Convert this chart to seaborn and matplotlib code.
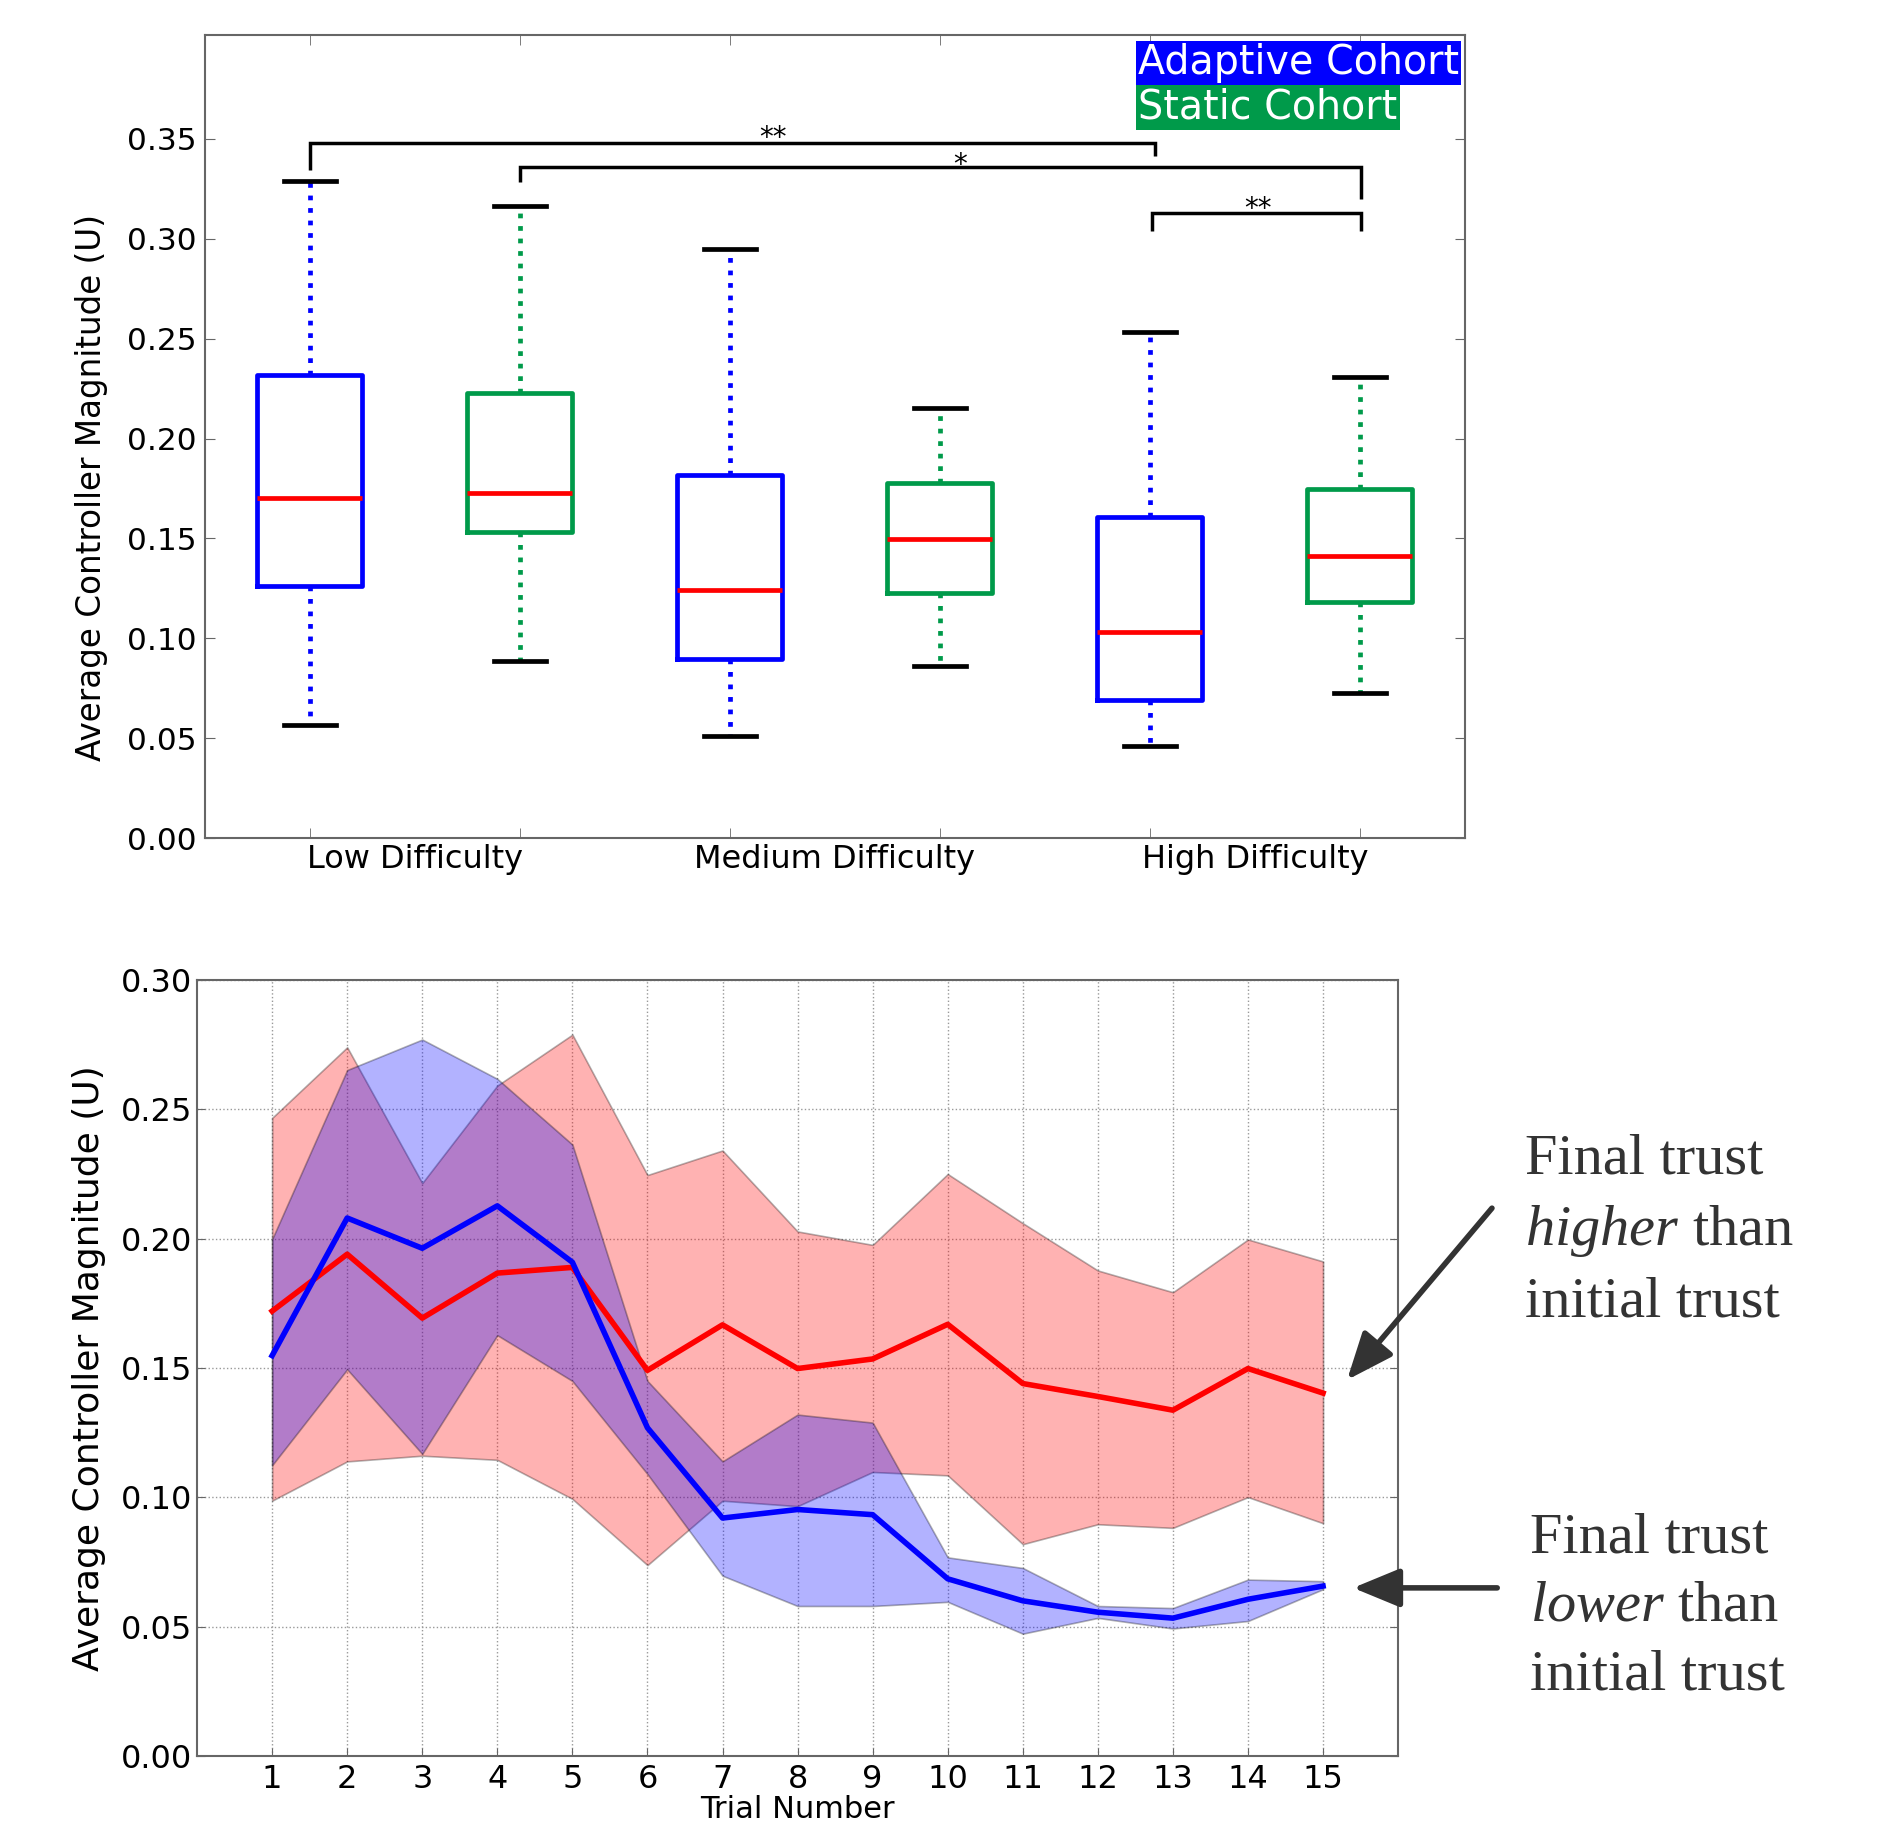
import numpy as np
import pandas as pd
import matplotlib
matplotlib.use("Agg")
import matplotlib.pyplot as plt
import seaborn as sns

# ---------------- data ----------------
difficulties = ["Low Difficulty", "Medium Difficulty", "High Difficulty"]
cohorts = ["Adaptive Cohort", "Static Cohort"]
# five-number summaries: whisker low, Q1, median, Q3, whisker high
adaptive_low = [0.0566, 0.126, 0.170, 0.232, 0.329]
static_low = [0.0884, 0.1534, 0.1727, 0.2226, 0.3165]
adaptive_med = [0.0511, 0.0897, 0.124, 0.1817, 0.2948]
static_med = [0.086, 0.1227, 0.1498, 0.1775, 0.2154]
adaptive_high = [0.0463, 0.0692, 0.1029, 0.1606, 0.2533]
static_high = [0.0728, 0.118, 0.1414, 0.1745, 0.231]

sig_labels = ["**", "*", "**"]

trials = list(range(1, 16))
static_mean = [0.172, 0.194, 0.1693, 0.1867, 0.1889, 0.1491, 0.1667, 0.1498, 0.1535,
               0.1669, 0.144, 0.139, 0.1337, 0.1498, 0.1403]
static_upper = [0.2467, 0.274, 0.2215, 0.2592, 0.2789, 0.2246, 0.2341, 0.2028, 0.1976,
                0.225, 0.206, 0.1877, 0.1793, 0.1997, 0.1912]
static_lower = [0.0987, 0.1139, 0.1161, 0.1145, 0.0994, 0.0738, 0.0987, 0.0966, 0.1098,
                0.1085, 0.0819, 0.0896, 0.0882, 0.1001, 0.090]
adaptive_mean = [0.1548, 0.208, 0.1963, 0.2127, 0.1909, 0.1269, 0.092, 0.0953, 0.0933,
                 0.0685, 0.060, 0.0556, 0.0533, 0.0606, 0.0657]
adaptive_upper = [0.1998, 0.2652, 0.277, 0.2618, 0.2364, 0.145, 0.1139, 0.132, 0.1289,
                  0.0768, 0.0727, 0.058, 0.0572, 0.0682, 0.0676]
adaptive_lower = [0.1124, 0.1495, 0.1168, 0.1627, 0.145, 0.109, 0.0697, 0.058, 0.058,
                  0.0596, 0.0473, 0.0534, 0.0493, 0.0522, 0.0645]

BLUE = "#0000ff"
GREEN = "#009a4a"
GREY = "#333333"

plt.rcParams["font.family"] = ["DejaVu Sans"]
plt.rcParams["mathtext.fontset"] = "custom"
plt.rcParams["mathtext.rm"] = "Liberation Serif"
plt.rcParams["mathtext.it"] = "Liberation Serif:italic"

fig = plt.figure(figsize=(18.82, 18.25), dpi=100)

# ---------------- top: box plot ----------------
ax1 = fig.add_axes([0.1089, 0.5408, 0.6695, 0.44])
summaries = {
    ("Low Difficulty", "Adaptive Cohort"): adaptive_low,
    ("Low Difficulty", "Static Cohort"): static_low,
    ("Medium Difficulty", "Adaptive Cohort"): adaptive_med,
    ("Medium Difficulty", "Static Cohort"): static_med,
    ("High Difficulty", "Adaptive Cohort"): adaptive_high,
    ("High Difficulty", "Static Cohort"): static_high,
}
rows = []
for (d, c), vals in summaries.items():
    for v in vals:
        rows.append({"difficulty": d, "cohort": c, "value": v})
df_box = pd.DataFrame(rows)

sns.boxplot(data=df_box, x="difficulty", y="value", hue="cohort",
            order=difficulties, hue_order=cohorts,
            palette={"Adaptive Cohort": BLUE, "Static Cohort": GREEN},
            width=1.0, gap=0.5, fill=False, whis=(0, 100), linewidth=3.4,
            whiskerprops={"linestyle": ":"},
            capprops={"color": "black"},
            medianprops={"color": "red"},
            legend=False, ax=ax1)

ax1.set_xlim(-0.5, 2.5)
ax1.set_ylim(0, 0.402)
ax1.set_yticks(np.arange(0, 0.351, 0.05))
ax1.set_yticklabels([f"{v:.2f}" for v in np.arange(0, 0.351, 0.05)])
ax1.set_xticks([0, 1, 2])
ax1.set_xticklabels(difficulties)
box_pos = [-0.25, 0.25, 0.75, 1.25, 1.75, 2.25]
ax1.set_xticks(box_pos, minor=True)
ax1.tick_params(axis="x", which="major", length=0, labelsize=23, pad=4)
ax1.tick_params(axis="x", which="minor", direction="in", top=True, bottom=True,
                length=7, color="#666666")
ax1.tick_params(axis="y", direction="in", left=True, right=True, length=7,
                labelsize=22.5, color="#666666", pad=6)
ax1.set_xlabel("")
ax1.set_ylabel("Average Controller Magnitude (U)", fontsize=23.5)
ax1.yaxis.set_label_coords(-0.077, 0.436)
for s in ax1.spines.values():
    s.set_color("#666666")
    s.set_linewidth(1.5)

# significance brackets: (x_left, x_right, y_bar, y_left_end, y_right_end, x_text, y_text)
brackets = [
    (-0.25, 1.761, 0.348, 0.3345, 0.3412, 0.853, 0.3466),
    (0.25, 2.253, 0.3357, 0.3285, 0.320, 1.299, 0.3330),
    (1.756, 2.253, 0.3129, 0.3038, 0.3038, 2.007, 0.3110),
]
for (xl, xr, yb, yl, yr, xt, yt), lab in zip(brackets, sig_labels):
    ax1.plot([xl, xl, xr, xr], [yl, yb, yb, yr], color="black", lw=2.5,
             solid_capstyle="butt", solid_joinstyle="miter")
    ax1.text(xt, yt, lab, ha="center", va="baseline", fontsize=20)

ax1.text(0.7405, 0.990, "Adaptive Cohort", transform=ax1.transAxes, ha="left", va="top",
         fontsize=28.5, color="white",
         bbox=dict(boxstyle="square,pad=0.06", facecolor=BLUE, edgecolor="none"))
ax1.text(0.7405, 0.935, "Static Cohort", transform=ax1.transAxes, ha="left", va="top",
         fontsize=28.5, color="white",
         bbox=dict(boxstyle="square,pad=0.06", facecolor=GREEN, edgecolor="none"))

# ---------------- bottom: trial lines ----------------
ax2 = fig.add_axes([0.1047, 0.0378, 0.6382, 0.4252])
ax2.fill_between(trials, static_lower, static_upper, facecolor="red",
                 edgecolor="black", linewidth=1.2, alpha=0.3)
ax2.fill_between(trials, adaptive_lower, adaptive_upper, facecolor="blue",
                 edgecolor="black", linewidth=1.2, alpha=0.3)
sns.lineplot(x=trials, y=static_mean, color="red", linewidth=4, ax=ax2)
sns.lineplot(x=trials, y=adaptive_mean, color="blue", linewidth=4, ax=ax2)

ax2.set_xlim(0, 16)
ax2.set_ylim(0, 0.30)
ax2.set_xticks(trials)
ax2.set_xticklabels([str(t) for t in trials])
ax2.set_yticks(np.arange(0, 0.301, 0.05))
ax2.set_yticklabels([f"{v:.2f}" for v in np.arange(0, 0.301, 0.05)])
ax2.grid(True, linestyle=":", color="#999999", linewidth=1.0)
ax2.set_axisbelow(True)
ax2.tick_params(axis="both", direction="in", top=False, right=True, length=6,
                labelsize=23, color="#666666")
ax2.tick_params(axis="x", pad=6)
ax2.set_xlabel("Trial Number", fontsize=22, labelpad=0)
ax2.set_ylabel("Average Controller Magnitude (U)", fontsize=26)
ax2.yaxis.set_label_coords(-0.0758, 0.5)
for s in ax2.spines.values():
    s.set_color("#666666")
    s.set_linewidth(1.5)

arrow_style = "-|>,head_length=0.8,head_width=0.33"
ax2.annotate("", xy=(15.32, 0.1454), xytext=(17.25, 0.2118),
             arrowprops=dict(arrowstyle=arrow_style, lw=4, color=GREY,
                             mutation_scale=36, shrinkA=0, shrinkB=0),
             annotation_clip=False)
ax2.annotate("", xy=(15.40, 0.065), xytext=(17.32, 0.065),
             arrowprops=dict(arrowstyle=arrow_style, lw=4, color=GREY,
                             mutation_scale=36, shrinkA=0, shrinkB=0),
             annotation_clip=False)
ax2.text(17.69, 0.2406, "Final trust\n$\\mathit{higher}$ than\ninitial trust",
         fontsize=42, family="Liberation Serif", color=GREY, ha="left", va="top",
         linespacing=1.42, clip_on=False)
ax2.text(17.75, 0.0943, "Final trust\n$\\mathit{lower}$ than\ninitial trust",
         fontsize=42, family="Liberation Serif", color=GREY, ha="left", va="top",
         linespacing=1.42, clip_on=False)

fig.savefig("out.png", dpi=100)
